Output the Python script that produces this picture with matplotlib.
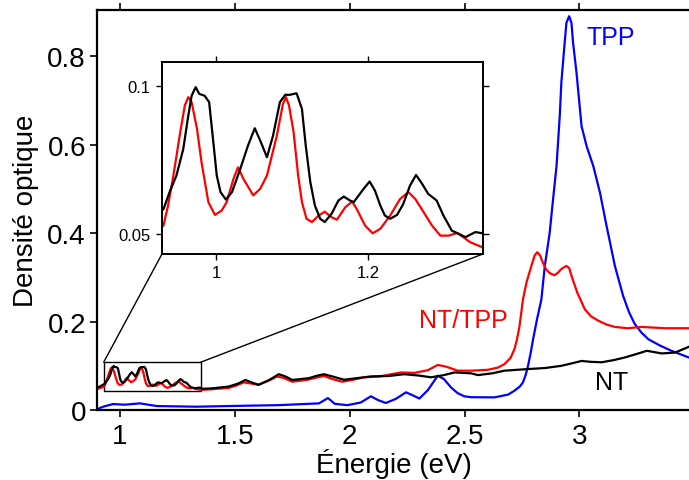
import matplotlib
matplotlib.use('Agg')
import matplotlib.pyplot as plt
from matplotlib.patches import Rectangle, ConnectionPatch

plt.rcParams['font.family'] = ['Liberation Sans', 'DejaVu Sans']

# NT (nanotubes alone), black
nt_x = [0.900, 0.931, 0.939, 0.948, 0.957, 0.9636, 0.968, 0.9733, 0.978, 0.985, 0.991, 0.9965,
        1.001, 1.006, 1.013, 1.021, 1.032, 1.042, 1.051, 1.059, 1.067, 1.075, 1.084, 1.091,
        1.097, 1.106, 1.113, 1.118, 1.124, 1.130, 1.137, 1.143, 1.152, 1.161, 1.168, 1.176,
        1.181, 1.194, 1.202, 1.209, 1.216, 1.222, 1.229, 1.238, 1.246, 1.255, 1.263, 1.271,
        1.279, 1.290, 1.299, 1.310, 1.328, 1.341, 1.350, 1.357, 1.400, 1.473, 1.515, 1.546,
        1.575, 1.604, 1.650, 1.691, 1.720, 1.750, 1.822, 1.860, 1.888, 1.924, 1.975, 2.030,
        2.092, 2.170, 2.237, 2.300, 2.354, 2.410, 2.456, 2.528, 2.558, 2.620, 2.674, 2.776,
        2.850, 2.921, 2.970, 3.009, 3.050, 3.096, 3.150, 3.198, 3.250, 3.293, 3.358, 3.416,
        3.485]
nt_y = [0.0500, 0.0584, 0.0641, 0.0697, 0.0787, 0.0900, 0.0967, 0.0996, 0.0973, 0.0967, 0.0945, 0.0810,
        0.0697, 0.0641, 0.0616, 0.0641, 0.0720, 0.0798, 0.0857, 0.0810, 0.0759, 0.0832, 0.0945, 0.0970,
        0.0970, 0.0975, 0.0922, 0.0798, 0.0675, 0.0596, 0.0551, 0.0540, 0.0568, 0.0613, 0.0626, 0.0613,
        0.0607, 0.0652, 0.0677, 0.0646, 0.0596, 0.0562, 0.0551, 0.0564, 0.0600, 0.0663, 0.0699, 0.0669,
        0.0635, 0.0613, 0.0562, 0.0511, 0.0489, 0.0506, 0.0502, 0.0480, 0.0490, 0.0530, 0.0600, 0.0680,
        0.0620, 0.0570, 0.0680, 0.0810, 0.0760, 0.0680, 0.0720, 0.0780, 0.0810, 0.0760, 0.0685, 0.0720,
        0.0760, 0.0770, 0.0810, 0.0780, 0.0740, 0.0790, 0.0850, 0.0830, 0.0790, 0.0830, 0.0890, 0.0927,
        0.0950, 0.1000, 0.1060, 0.1110, 0.1090, 0.1080, 0.1130, 0.1190, 0.1270, 0.1340, 0.1280, 0.1300,
        0.1450]

# NT/TPP, red
mix_x = [0.900, 0.931, 0.937, 0.944, 0.953, 0.959, 0.9636, 0.968, 0.975, 0.981, 0.990, 0.9987,
         1.0075, 1.014, 1.023, 1.029, 1.036, 1.049, 1.058, 1.067, 1.080, 1.088, 1.092, 1.096,
         1.102, 1.108, 1.113, 1.119, 1.126, 1.135, 1.143, 1.152, 1.159, 1.170, 1.179, 1.185,
         1.196, 1.206, 1.216, 1.229, 1.242, 1.253, 1.262, 1.273, 1.284, 1.295, 1.306, 1.317,
         1.325, 1.334, 1.350, 1.400, 1.473, 1.510, 1.538, 1.570, 1.600, 1.645, 1.684, 1.715,
         1.750, 1.822, 1.860, 1.888, 1.924, 1.968, 2.010, 2.063, 2.130, 2.223, 2.280, 2.340,
         2.383, 2.420, 2.470, 2.528, 2.601, 2.645, 2.674, 2.700, 2.717, 2.728, 2.739, 2.754,
         2.770, 2.790, 2.805, 2.816, 2.828, 2.840, 2.855, 2.870, 2.890, 2.905, 2.921, 2.943,
         2.955, 2.965, 2.990, 3.023, 3.050, 3.082, 3.120, 3.154, 3.210, 3.270, 3.373, 3.485]
mix_y = [0.0475, 0.0528, 0.0596, 0.0697, 0.0844, 0.0934, 0.0962, 0.0945, 0.0855, 0.0742, 0.0607, 0.0564,
         0.0579, 0.0607, 0.0686, 0.0725, 0.0686, 0.0630, 0.0652, 0.0697, 0.0832, 0.0939, 0.0962, 0.0934,
         0.0844, 0.0697, 0.0607, 0.0551, 0.0540, 0.0562, 0.0575, 0.0556, 0.0548, 0.0590, 0.0609, 0.0584,
         0.0528, 0.0502, 0.0517, 0.0562, 0.0618, 0.0641, 0.0618, 0.0573, 0.0528, 0.0494, 0.0494, 0.0503,
         0.0489, 0.0472, 0.0455, 0.0470, 0.0500, 0.0560, 0.0625, 0.0600, 0.0570, 0.0660, 0.0760, 0.0720,
         0.0640, 0.0690, 0.0740, 0.0770, 0.0700, 0.0640, 0.0680, 0.0740, 0.0760, 0.0850, 0.0840, 0.0900,
         0.1020, 0.0980, 0.0890, 0.0890, 0.0910, 0.0960, 0.1040, 0.1180, 0.1380, 0.1600, 0.1900, 0.2500,
         0.2900, 0.3250, 0.3500, 0.3570, 0.3500, 0.3340, 0.3180, 0.3100, 0.3050, 0.3100, 0.3190, 0.3260,
         0.3210, 0.3040, 0.2660, 0.2280, 0.2120, 0.2020, 0.1930, 0.1880, 0.1850, 0.1880, 0.1850, 0.1850]

# TPP alone, blue
tpp_x = [0.900, 0.930, 0.970, 1.020, 1.087, 1.160, 1.330, 1.473, 1.690, 1.866, 1.905, 1.935,
         1.990, 2.048, 2.092, 2.125, 2.157, 2.200, 2.245, 2.275, 2.303, 2.340, 2.383, 2.410,
         2.441, 2.470, 2.499, 2.528, 2.630, 2.690, 2.717, 2.740, 2.754, 2.766, 2.776, 2.787,
         2.798, 2.815, 2.834, 2.849, 2.870, 2.885, 2.900, 2.914, 2.921, 2.933, 2.943, 2.955,
         2.965, 2.972, 2.987, 3.009, 3.031, 3.060, 3.089, 3.118, 3.154, 3.190, 3.215, 3.240,
         3.270, 3.300, 3.350, 3.400, 3.485]
tpp_y = [0.002, 0.008, 0.0135, 0.012, 0.015, 0.009, 0.0075, 0.009, 0.011, 0.015, 0.027, 0.014,
         0.011, 0.017, 0.031, 0.022, 0.016, 0.025, 0.040, 0.033, 0.026, 0.045, 0.0775, 0.070,
         0.051, 0.038, 0.031, 0.029, 0.0286, 0.035, 0.0437, 0.053, 0.0625, 0.080, 0.100, 0.128,
         0.160, 0.205, 0.250, 0.326, 0.400, 0.477, 0.552, 0.665, 0.741, 0.816, 0.876, 0.891,
         0.876, 0.831, 0.763, 0.642, 0.597, 0.552, 0.492, 0.416, 0.326, 0.258, 0.222, 0.195,
         0.175, 0.160, 0.146, 0.134, 0.117]

main_xticks = [1, 1.5, 2, 2.5, 3]
main_xlabels = ['1', '1.5', '2', '2.5', '3']
main_yticks = [0, 0.2, 0.4, 0.6, 0.8]
main_ylabels = ['0', '0.2', '0.4', '0.6', '0.8']
ins_xticks = [1, 1.2]
ins_xlabels = ['1', '1.2']
ins_yticks = [0.05, 0.1]
ins_ylabels = ['0.05', '0.1']

fig = plt.figure(figsize=(6.89, 4.81), dpi=100)
ax = fig.add_axes([0.1408, 0.1455, 0.862, 0.8316])

line_kw = dict(lw=1.6, solid_joinstyle='round', solid_capstyle='round')
ax.plot(tpp_x, tpp_y, color='#0000ff', **line_kw)
ax.plot(mix_x, mix_y, color='#ff0000', **line_kw)
ax.plot(nt_x, nt_y, color='black', **line_kw)

ax.set_xlim(0.9, 3.485)
ax.set_ylim(0, 0.905)
ax.set_xticks(main_xticks)
ax.set_xticklabels(main_xlabels)
ax.set_yticks(main_yticks)
ax.set_yticklabels(main_ylabels)
ax.tick_params(direction='out', length=5, width=1.2, labelsize=20, top=True, right=False)
ax.tick_params(axis='x', pad=4)
ax.tick_params(axis='y', pad=3)
for s in ax.spines.values():
    s.set_linewidth(1.6)
ax.spines['right'].set_visible(False)

ax.set_xlabel('Énergie (eV)', fontsize=20)
ax.xaxis.set_label_coords(0.5, -0.095)
ax.set_ylabel('Densité optique', fontsize=20)
ax.yaxis.set_label_coords(-0.097, 0.5)

ax.text(3.031, 0.827, 'TPP', color='#0000ff', fontsize=18)
ax.text(2.30, 0.188, 'NT/TPP', color='#ff0000', fontsize=18)
ax.text(3.066, 0.048, 'NT', color='black', fontsize=18)

# inset
x0, x1, y0, y1 = 0.929, 1.351, 0.0432, 0.1081
axins = fig.add_axes([0.2351, 0.4699, 0.4659, 0.3992])
axins.plot(mix_x, mix_y, color='#ff0000', **line_kw)
axins.plot(nt_x, nt_y, color='black', **line_kw)
axins.set_xlim(x0, x1)
axins.set_ylim(y0, y1)
axins.set_xticks(ins_xticks)
axins.set_xticklabels(ins_xlabels)
axins.set_yticks(ins_yticks)
axins.set_yticklabels(ins_ylabels)
axins.tick_params(direction='out', length=4, width=1.0, labelsize=12,
                  top=True, right=True, pad=4)
for s in axins.spines.values():
    s.set_linewidth(1.4)

ax.add_patch(Rectangle((x0, y0), x1 - x0, y1 - y0, fill=False, ec='black', lw=1.0))
for (xa, ya), (xb, yb) in [((x0, y1), (x0, y0)), ((x1, y1), (x1, y0))]:
    con = ConnectionPatch(xyA=(xa, ya), coordsA=ax.transData,
                          xyB=(xb, yb), coordsB=axins.transData, color='black', lw=1.0)
    fig.add_artist(con)

fig.savefig('out.png', dpi=100)
